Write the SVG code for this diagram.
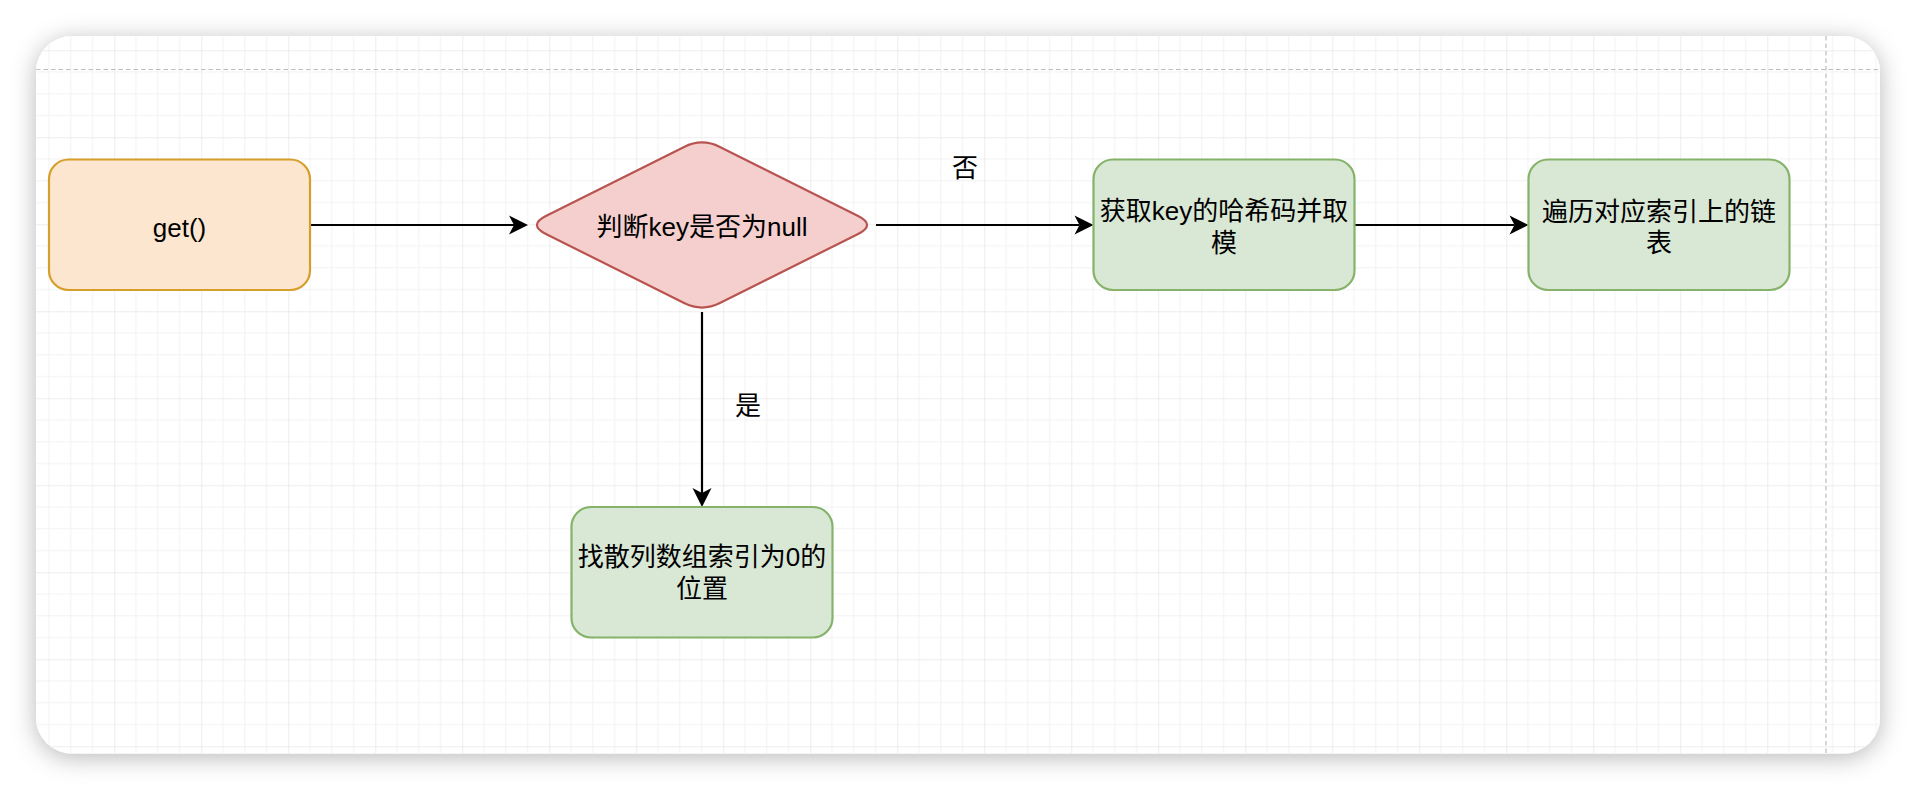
<svg xmlns="http://www.w3.org/2000/svg" width="1916" height="790" viewBox="0 0 1916 790">
  <defs>
    <filter id="shadow" x="-10%" y="-20%" width="120%" height="140%">
      <feDropShadow dx="0" dy="4" stdDeviation="12" flood-color="#000000" flood-opacity="0.28"/>
    </filter>
    <pattern id="grid" patternUnits="userSpaceOnUse" x="114.3" y="50.3" width="87" height="87">
      <path d="M21.75 0V87M43.5 0V87M65.25 0V87M0 21.75H87M0 43.5H87M0 65.25H87" stroke="#f2f2f2" stroke-width="1" fill="none"/>
      <path d="M0 0V87M0 0H87" stroke="#dcdcdc" stroke-width="1" fill="none"/>
    </pattern>
    <clipPath id="panelClip">
      <rect x="36" y="36" width="1844" height="717.5" rx="36" ry="36"/>
    </clipPath>
    <marker id="arrow" markerUnits="userSpaceOnUse" viewBox="-6 -10 22 20" markerWidth="22" markerHeight="20" refX="0" refY="0" orient="auto" overflow="visible">
      <path d="M14 0L-5 -9.5L0 0L-5 9.5Z" fill="#000000" stroke="none"/>
    </marker>
    <style>
      .txt { font-family: "Liberation Sans", "Noto Sans CJK SC", sans-serif; font-size: 26px; fill: #000000; text-anchor: middle; }
      .orange { fill: #fce6cf; stroke: #d69e2a; stroke-width: 2.2; }
      .red { fill: #f4cfcd; stroke: #b85450; stroke-width: 2.2; }
      .green { fill: #d9e7d5; stroke: #85b36a; stroke-width: 2.2; }
      .edge { stroke: #000000; stroke-width: 2.2; fill: none; marker-end: url(#arrow); }
      .dash { stroke: #bdbdbd; stroke-width: 1.2; stroke-dasharray: 4.5 3; fill: none; }
    </style>
  </defs>

  <rect x="0" y="0" width="1916" height="790" fill="#ffffff"/>

  <g id="panel">
    <rect x="36" y="36" width="1844" height="717.5" rx="36" ry="36" fill="#ffffff" filter="url(#shadow)"/>
    <g clip-path="url(#panelClip)">
      <rect x="36" y="36" width="1844" height="717.5" fill="url(#grid)"/>
      <line class="dash" x1="36" y1="69.5" x2="1880" y2="69.5"/>
      <line class="dash" x1="1826" y1="36" x2="1826" y2="753.5"/>
    </g>
  </g>

  <g id="connectors">
    <line class="edge" x1="310" y1="225" x2="514" y2="225"/>
    <line class="edge" x1="876" y1="225" x2="1079.5" y2="225"/>
    <line class="edge" x1="1354.5" y1="225" x2="1514.5" y2="225"/>
    <line class="edge" x1="702" y1="312" x2="702" y2="493"/>
    <text class="txt" x="965" y="176.5">否</text>
    <text class="txt" x="748" y="415">是</text>
  </g>

  <g id="node-get">
    <rect class="orange" x="49" y="159.5" width="261" height="130.5" rx="19.6" ry="19.6"/>
    <text class="txt" x="179.5" y="236.5">get()</text>
  </g>

  <g id="node-decision">
    <path class="red" d="M545.89 216.06L684.11 146.94Q702 138 719.89 146.94L858.11 216.06Q876 225 858.11 233.94L719.89 303.06Q702 312 684.11 303.06L545.89 233.94Q528 225 545.89 216.06Z"/>
    <text class="txt" x="702" y="236">判断key是否为null</text>
  </g>

  <g id="node-hash">
    <rect class="green" x="1093.5" y="159.5" width="261" height="130.5" rx="19.6" ry="19.6"/>
    <text class="txt" x="1224" y="220">获取key的哈希码并取</text>
    <text class="txt" x="1224" y="251.5">模</text>
  </g>

  <g id="node-traverse">
    <rect class="green" x="1528.5" y="159.5" width="261" height="130.5" rx="19.6" ry="19.6"/>
    <text class="txt" x="1659" y="220.5">遍历对应索引上的链</text>
    <text class="txt" x="1659" y="252">表</text>
  </g>

  <g id="node-zero">
    <rect class="green" x="571.5" y="507" width="261" height="130.5" rx="19.6" ry="19.6"/>
    <text class="txt" x="702" y="566">找散列数组索引为0的</text>
    <text class="txt" x="702" y="598">位置</text>
  </g>
</svg>
